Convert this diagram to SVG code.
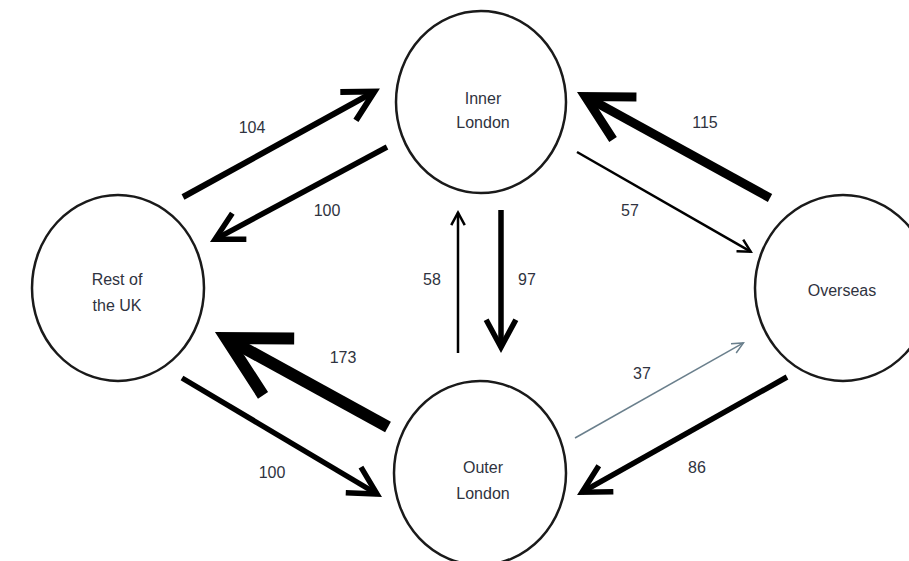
<svg xmlns="http://www.w3.org/2000/svg" width="909" height="561" viewBox="0 0 909 561">
<style>
.node{fill:#fff;stroke:#1a1a1a;stroke-width:2.5}
.lbl{font-family:"Liberation Sans",Arial,sans-serif;font-size:16px;fill:#2f3340;text-anchor:middle;dominant-baseline:central}
.arr{stroke:#000;fill:none;stroke-linecap:butt}
</style>
<defs>
<marker id="head" markerUnits="strokeWidth" markerWidth="10" markerHeight="10" refX="0" refY="0" orient="auto" overflow="visible">
<path d="M-5,-2.7 L0,0 L-5,2.7" fill="none" stroke="#000" stroke-width="1" stroke-linejoin="miter"/>
</marker>
<marker id="headThin" markerUnits="strokeWidth" markerWidth="10" markerHeight="10" refX="0" refY="0" orient="auto" overflow="visible">
<path d="M-7.5,-3.5 L0,0 L-7.5,3.5" fill="none" stroke="#6a7f8c" stroke-width="1" stroke-linejoin="miter"/>
</marker>
</defs>
<rect width="909" height="561" fill="#fff"/>
<g id="connectors">
<line class="arr" x1="183" y1="197" x2="374.4" y2="91.6" stroke-width="6" marker-end="url(#head)"/>
<line class="arr" x1="387" y1="147" x2="215.1" y2="239.3" stroke-width="5.5" marker-end="url(#head)"/>
<line class="arr" x1="388" y1="427" x2="226" y2="338.1" stroke-width="12" marker-end="url(#head)"/>
<line class="arr" x1="182" y1="378" x2="377" y2="494" stroke-width="5.5" marker-end="url(#head)"/>
<line class="arr" x1="770" y1="198" x2="585.3" y2="96.5" stroke-width="9" marker-end="url(#head)"/>
<line class="arr" x1="577" y1="152" x2="750.7" y2="251.7" stroke-width="2.5" marker-end="url(#head)"/>
<line class="arr" x1="458" y1="353" x2="458" y2="212.6" stroke-width="2.5" marker-end="url(#head)"/>
<line class="arr" x1="501" y1="210" x2="501" y2="347.2" stroke-width="5.5" marker-end="url(#head)"/>
<line class="arr" x1="575" y1="438" x2="743.4" y2="342.9" stroke-width="1.5" style="stroke:#6a7f8c" marker-end="url(#headThin)"/>
<line class="arr" x1="787" y1="377" x2="582.1" y2="492.2" stroke-width="5.5" marker-end="url(#head)"/>
<text class="lbl" x="252" y="127">104</text>
<text class="lbl" x="327" y="210">100</text>
<text class="lbl" x="343" y="357">173</text>
<text class="lbl" x="272" y="472">100</text>
<text class="lbl" x="705" y="122">115</text>
<text class="lbl" x="630" y="210">57</text>
<text class="lbl" x="432" y="279">58</text>
<text class="lbl" x="527" y="279">97</text>
<text class="lbl" x="642" y="373">37</text>
<text class="lbl" x="697" y="467">86</text>
</g>
<g id="inner-london">
<ellipse class="node" cx="481" cy="102" rx="85" ry="91"/>
<text class="lbl" x="483" y="98">Inner</text>
<text class="lbl" x="483" y="122">London</text>
</g>
<g id="rest-of-uk">
<ellipse class="node" cx="118" cy="288" rx="86" ry="93"/>
<text class="lbl" x="117" y="279">Rest of</text>
<text class="lbl" x="117" y="305">the UK</text>
</g>
<g id="overseas">
<ellipse class="node" cx="843" cy="288" rx="88" ry="93"/>
<text class="lbl" x="842" y="290">Overseas</text>
</g>
<g id="outer-london">
<ellipse class="node" cx="480" cy="473" rx="86" ry="92"/>
<text class="lbl" x="483" y="467">Outer</text>
<text class="lbl" x="483" y="493">London</text>
</g>
</svg>
